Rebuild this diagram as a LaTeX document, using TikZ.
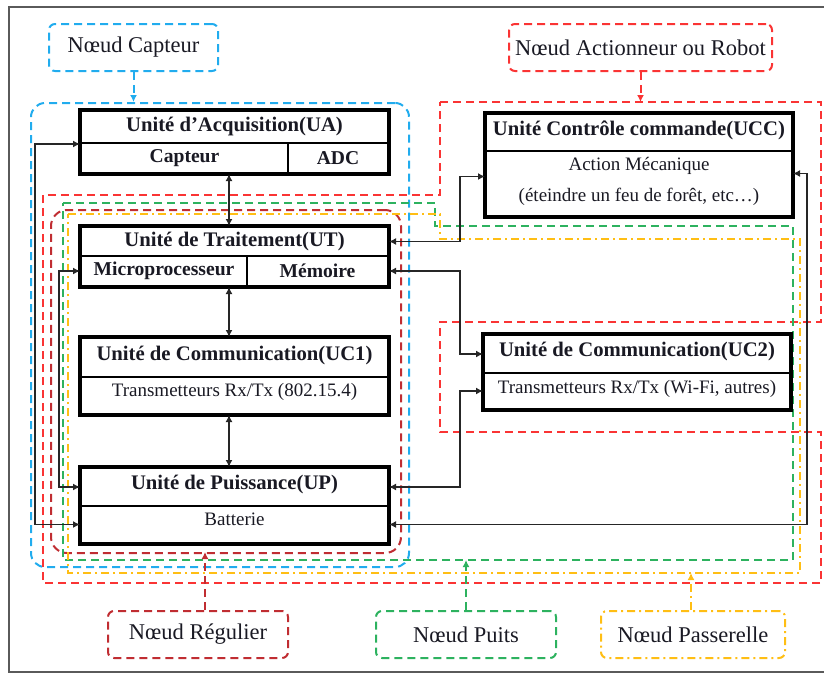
\documentclass[tikz,border=0pt]{standalone}
\usepackage{fontspec}
\setmainfont{Liberation Serif}
\usetikzlibrary{arrows.meta,calc}
\definecolor{capcyan}{RGB}{33,172,238}
\definecolor{actred}{RGB}{250,52,52}
\definecolor{regred}{RGB}{192,45,50}
\definecolor{puitgreen}{RGB}{45,178,95}
\definecolor{passyellow}{RGB}{255,190,20}
\definecolor{inktext}{RGB}{25,25,35}
\definecolor{framegray}{RGB}{90,90,90}

\begin{document}
\begin{tikzpicture}[x=1pt,y=-1pt,
  every node/.style={inner sep=0pt, text=inktext},
  zone/.style={line width=2pt, dash pattern=on 8pt off 5pt},
  zonedot/.style={line width=2pt, dash pattern=on 8pt off 4pt on 2pt off 4pt},
  row/.style={draw=black, line width=2pt, fill=white, anchor=north west},
  outline/.style={draw=black, line width=3.4pt},
  conn/.style={draw=black!85, line width=1.8pt,
    {Latex[length=7pt,width=7pt]}-{Latex[length=7pt,width=7pt]}},
  pointer/.style={-{Latex[length=7pt,width=7pt]}},
  tag/.style={draw, rounded corners=6pt, anchor=north west,
    minimum height=47pt, font=\fontsize{22.5}{26}\selectfont},
  tfont/.style={font=\bfseries\fontsize{20.7}{23}\selectfont},
  sbfont/.style={font=\bfseries\fontsize{19.6}{22}\selectfont},
  sfont/.style={font=\fontsize{19}{21}\selectfont},
  lift/.style={text height=14pt, text depth=9pt},
  liftb/.style={text height=13pt, text depth=11pt},
]
\useasboundingbox (0,0) rectangle (824,675);

% outer frame
\draw[framegray, line width=2.2pt] (826,7) -- (9,7) -- (9,672) -- (826,672);

% node families (dashed zones)
\node[draw=capcyan, zone, rounded corners=14pt, anchor=north west,
      minimum width=378pt, minimum height=464pt] (capzone) at (30,102) {};
\draw[actred, zone] (440,102) -- (821,102) -- (821,322) -- (440,322) -- (440,432)
   -- (821,432) -- (821,583) -- (43,583) -- (43,195) -- (440,195) -- cycle;
\coordinate (acttop) at (638,102);
\node[draw=regred, zone, rounded corners=16pt, anchor=north west,
      minimum width=350pt, minimum height=343pt] (regzone) at (50,209) {};
\coordinate (regin) at (205,552);
\draw[puitgreen, zone] (63,203) -- (435,203) -- (435,226) -- (793,226)
   -- (793,560) -- (63,560) -- cycle;
\coordinate (puitbot) at (465,560);
\draw[passyellow, zonedot] (68,214) -- (440,214) -- (440,239) -- (800,239)
   -- (800,573) -- (68,573) -- cycle;
\coordinate (passbot) at (691,573);

% family tags
\node[tag, draw=capcyan, zone, minimum width=169pt] (tcap) at (48,23) {Nœud Capteur};
\node[tag, draw=actred, zone, minimum width=263pt] (tact) at (508,23) {Nœud Actionneur ou Robot};
\node[tag, draw=regred, zone, minimum width=180pt] (treg) at (107,610) {Nœud Régulier};
\node[tag, draw=puitgreen, zone, minimum width=180pt] (tpuit) at (375,610) {Nœud Puits};
\node[tag, draw=passyellow, zonedot, minimum width=184pt] (tpass) at (600,610) {Nœud Passerelle};

\draw[capcyan, zone, pointer] (tcap.south) -- (tcap.south |- capzone.north);
\draw[actred, zone, pointer] (tact.south) -- (tact.south |- acttop);
\draw[regred, zone, pointer] (treg.north -| regin) -- (regin);
\draw[puitgreen, zone, pointer] (tpuit.north) -- (tpuit.north |- puitbot);
\draw[passyellow, zonedot, pointer] (tpass.north -| passbot) -- (passbot);

% units of the left column
\node[row, tfont, minimum width=307pt, minimum height=32pt] (uat) at (80,110) {Unité d’Acquisition(UA)};
\node[row, sbfont, minimum width=207pt, minimum height=30pt] (uab1) at (80,142) {Capteur};
\node[row, sbfont, minimum width=100pt, minimum height=30pt] (uab2) at (287,142) {ADC};
\draw[outline] (uat.north west) rectangle (uab2.south east);

\node[row, tfont, minimum width=307pt, minimum height=29pt] (utt) at (80,226) {Unité de Traitement(UT)};
\node[row, sbfont, minimum width=166pt, minimum height=30pt] (utb1) at (80,255) {Microprocesseur};
\node[row, sbfont, minimum width=141pt, minimum height=30pt] (utb2) at (246,255) {Mémoire};
\draw[outline] (utt.north west) rectangle (utb2.south east);

\node[row, tfont, lift, minimum width=307pt, minimum height=39pt] (uc1t) at (80,337) {Unité de Communication(UC1)};
\node[row, sfont, liftb, minimum width=307pt, minimum height=37pt] (uc1b) at (80,376) {Transmetteurs Rx/Tx (802.15.4)};
\draw[outline] (uc1t.north west) rectangle (uc1b.south east);

\node[row, tfont, lift, minimum width=307pt, minimum height=38pt] (upt) at (80,467) {Unité de Puissance(UP)};
\node[row, sfont, liftb, minimum width=307pt, minimum height=37pt] (upb) at (80,505) {Batterie};
\draw[outline] (upt.north west) rectangle (upb.south east);

% units of the right column
\node[row, tfont, lift, minimum width=306pt, minimum height=37pt] (ucct) at (485,113) {Unité Contrôle commande(UCC)};
\node[row, sfont, minimum width=306pt, minimum height=65pt, align=center, text depth=9pt] (uccb) at (485,150)
  {Action Mécanique\\[10pt](éteindre un feu de forêt, etc…)};
\draw[outline] (ucct.north west) rectangle (uccb.south east);

\node[row, tfont, lift, minimum width=306pt, minimum height=38pt] (uc2t) at (483,334) {Unité de Communication(UC2)};
\node[row, sfont, text height=13pt, text depth=8pt, minimum width=306pt, minimum height=36pt] (uc2b) at (483,372) {Transmetteurs Rx/Tx (Wi-Fi, autres)};
\draw[outline] (uc2t.north west) rectangle (uc2b.south east);

% links between units
\coordinate (spine) at (229,0);
\coordinate (lx1) at (35,0);
\coordinate (lx2) at (59,0);
\coordinate (rx1) at (460,0);
\coordinate (rx2) at (807,0);
\coordinate (uccin) at ($(uccb.west)+(0,-7)$);
\coordinate (uccout) at ($(uccb.east)+(0,-10)$);

\draw[conn] (spine |- uab1.south) -- (spine |- utt.north);
\draw[conn] (spine |- utb1.south) -- (spine |- uc1t.north);
\draw[conn] (spine |- uc1b.south) -- (spine |- upt.north);

\draw[conn] (upb.west) -- (lx1 |- upb.west) -- (lx1 |- uat.south west) -- (uat.south west);
\draw[conn] (upt.west) -- (lx2 |- upt.west) -- (lx2 |- utb1.west) -- (utb1.west);

\draw[conn] (utt.east) -- (rx1 |- utt.east) -- (rx1 |- uccin) -- (uccin);
\draw[conn] (utb2.east) -- (rx1 |- utb2.east) -- (rx1 |- uc2t.west) -- (uc2t.west);
\draw[conn] (uc2b.west) -- (rx1 |- uc2b.west) -- (rx1 |- upt.east) -- (upt.east);
\draw[conn] (upb.east) -- (rx2 |- upb.east) -- (rx2 |- uccout) -- (uccout);

\end{tikzpicture}
\end{document}
